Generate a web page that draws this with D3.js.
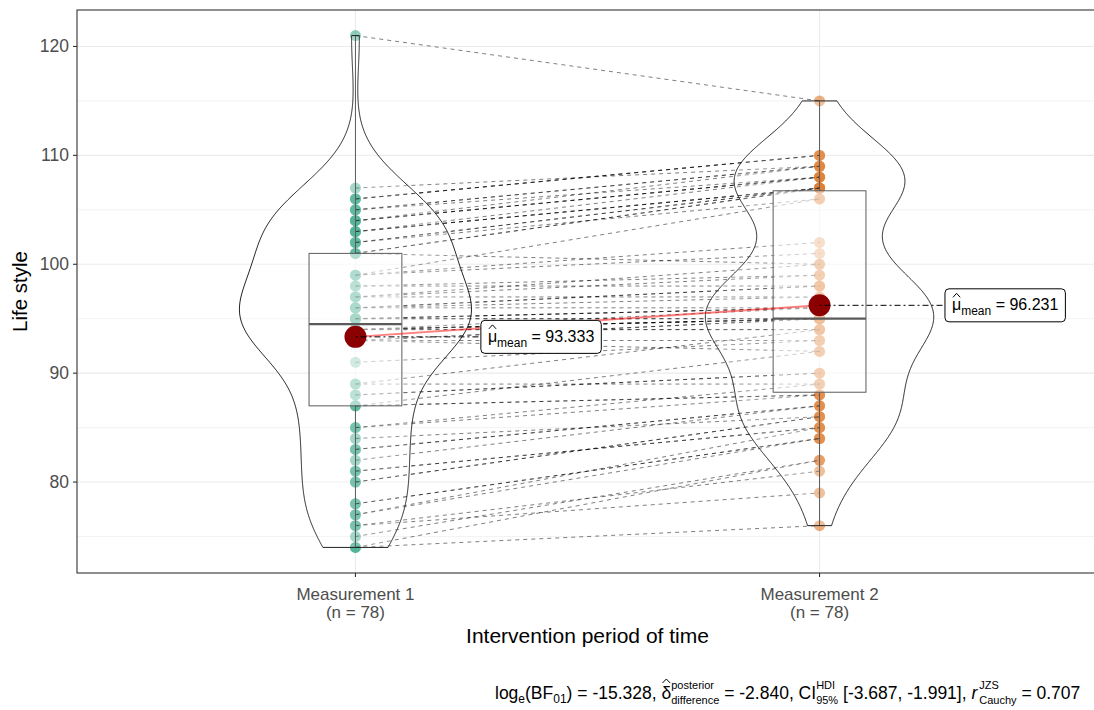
<!DOCTYPE html>
<html><head><meta charset="utf-8">
<script src="https://cdn.jsdelivr.net/npm/d3@7"></script>
<style>
body{margin:0;background:#fff}
svg text{font-family:"Liberation Sans",Arial,sans-serif;white-space:pre}
</style>
</head><body>
<svg id="chart" width="1094" height="710"></svg>
<script>
// ---------------- data ----------------
const categories = ["Measurement 1", "Measurement 2"];
const sampleSizes = [78, 78];
// values per subject (same index = same subject)
const measurement1 = [
  74,74,75,76,76,77,77,78,78,80,
  80,81,81,82,83,83,84,85,85,87,
  87,87,88,88,89,89,91,93,93,93,
  93,94,94,94,94,94,94,94,94,95,
  95,95,95,95,96,96,96,96,97,97,
  97,98,98,99,99,99,101,101,101,102,
  102,102,103,103,103,103,104,104,104,104,
  105,105,105,106,106,106,107,121];
const measurement2 = [
  76,82,82,81,79,85,84,84,84,86,
  86,85,85,87,87,87,86,89,88,88,
  88,92,90,90,89,94,93,93,92,95,
  95,94,94,95,95,95,95,96,95,95,
  95,96,96,96,96,98,98,97,97,100,
  99,99,98,106,102,101,100,107,107,107,
  106,107,107,107,107,108,108,108,108,109,
  109,109,108,110,110,110,109,115];
const yTicks = [80, 90, 100, 110, 120];
const yMinorTicks = [75, 85, 95, 105, 115];
const yTitle = "Life style";
const xTitle = "Intervention period of time";
const capLogBF = "-15.328";
const capDelta = "-2.840";
const capCILow = "-3.687";
const capCIHigh = "-1.991";
const capR = "0.707";
const groupColors = ["#1B9E77", "#D95F02"];

// ---------------- setup ----------------
const svg = d3.select("#chart");
const P = {left: 77, right: 1098, top: 10, bottom: 573};
const x = d3.scaleLinear().domain([0.4, 2.6]).range([P.left, P.right]);
const y = d3.scaleLinear().domain([71.65, 123.35]).range([P.bottom, P.top]);
const unit = x(2) - x(1);
const groups = [measurement1, measurement2];

svg.append("rect").attr("width", 1094).attr("height", 710).attr("fill", "#fff");

// grid
const grid = svg.append("g");
grid.selectAll(".minor").data(yMinorTicks).join("line")
  .attr("x1", P.left).attr("x2", P.right).attr("y1", d => y(d)).attr("y2", d => y(d))
  .attr("stroke", "#EBEBEB").attr("stroke-width", 0.6);
grid.selectAll(".major").data(yTicks).join("line")
  .attr("x1", P.left).attr("x2", P.right).attr("y1", d => y(d)).attr("y2", d => y(d))
  .attr("stroke", "#EBEBEB").attr("stroke-width", 1.1);
grid.selectAll(".vmajor").data([1, 2]).join("line")
  .attr("x1", d => x(d)).attr("x2", d => x(d)).attr("y1", P.top).attr("y2", P.bottom)
  .attr("stroke", "#EBEBEB").attr("stroke-width", 1.1);

// points
const ptsG = svg.append("g");
groups.forEach((vals, gi) => {
  ptsG.selectAll(null).data(vals).join("circle")
    .attr("cx", x(gi + 1)).attr("cy", d => y(d)).attr("r", 5.5)
    .attr("fill", groupColors[gi]).attr("fill-opacity", 0.5);
});

// paired paths
const pathG = svg.append("g");
pathG.selectAll("line").data(measurement1.map((v, i) => [v, measurement2[i]])).join("line")
  .attr("x1", x(1)).attr("x2", x(2)).attr("y1", d => y(d[0])).attr("y2", d => y(d[1]))
  .attr("stroke", "#000").attr("stroke-opacity", 0.5).attr("stroke-width", 1)
  .attr("stroke-dasharray", "4,4");

// boxplots
const boxG = svg.append("g");
groups.forEach((vals, gi) => {
  const s = vals.slice().sort(d3.ascending);
  const q1 = d3.quantile(s, 0.25), med = d3.quantile(s, 0.5), q3 = d3.quantile(s, 0.75);
  const iqr = q3 - q1;
  const lo = d3.min(s.filter(v => v >= q1 - 1.5 * iqr));
  const hi = d3.max(s.filter(v => v <= q3 + 1.5 * iqr));
  const cx = x(gi + 1), hw = 0.1 * unit;
  boxG.append("line").attr("x1", cx).attr("x2", cx).attr("y1", y(q3)).attr("y2", y(hi))
    .attr("stroke", "#333").attr("stroke-width", 1);
  boxG.append("line").attr("x1", cx).attr("x2", cx).attr("y1", y(q1)).attr("y2", y(lo))
    .attr("stroke", "#333").attr("stroke-width", 1);
  boxG.append("rect").attr("x", cx - hw).attr("width", 2 * hw).attr("y", y(q3)).attr("height", y(q1) - y(q3))
    .attr("fill", "#fff").attr("fill-opacity", 0.5).attr("stroke", "#333").attr("stroke-width", 1);
  boxG.append("line").attr("x1", cx - hw).attr("x2", cx + hw).attr("y1", y(med)).attr("y2", y(med))
    .attr("stroke", "#333").attr("stroke-width", 2.2);
});

// violins (gaussian KDE, bw.nrd0, trimmed, scale = area)
function kde(vals) {
  const s = vals.slice().sort(d3.ascending);
  const n = s.length, sd = d3.deviation(s);
  const iqr = d3.quantile(s, 0.75) - d3.quantile(s, 0.25);
  const bw = 0.9 * Math.min(sd, iqr / 1.34) * Math.pow(n, -0.2);
  const mn = s[0], mx = s[n - 1];
  return d3.range(512).map(i => {
    const t = mn + (mx - mn) * i / 511;
    const d = d3.mean(s, v => Math.exp(-0.5 * ((t - v) / bw) ** 2) / Math.sqrt(2 * Math.PI)) / bw;
    return [t, d];
  });
}
const dens = groups.map(kde);
const maxD = d3.max(dens, d => d3.max(d, e => e[1]));
const violG = svg.append("g");
dens.forEach((dd, gi) => {
  const cx = x(gi + 1);
  const area = d3.area().y(d => y(d[0]))
    .x0(d => cx - d[1] / maxD * 0.25 * unit)
    .x1(d => cx + d[1] / maxD * 0.25 * unit);
  violG.append("path").attr("d", area(dd) + "Z")
    .attr("fill", "#fff").attr("fill-opacity", 0.2).attr("stroke", "#222").attr("stroke-width", 1);
});

// centrality path and points
const means = groups.map(g => d3.mean(g));
svg.append("path").attr("d", d3.line().x((d, i) => x(i + 1)).y(d => y(d))(means))
  .attr("stroke", "red").attr("stroke-opacity", 0.5).attr("stroke-width", 2).attr("fill", "none");
svg.selectAll(".meanpt").data(means).join("circle")
  .attr("cx", (d, i) => x(i + 1)).attr("cy", d => y(d)).attr("r", 11).attr("fill", "#8B0000");

// rich text helper
function rich(g, x0, y0, parts) {
  let cx = x0;
  for (const p of parts) {
    if (p.stack) {
      const a = g.append("text").attr("x", cx).attr("y", y0 + p.supDy).attr("font-size", p.size).text(p.sup);
      const b = g.append("text").attr("x", cx).attr("y", y0 + p.subDy).attr("font-size", p.size).text(p.sub);
      cx += Math.max(a.node().getComputedTextLength(), b.node().getComputedTextLength()) + (p.after || 0);
    } else {
      const t = g.append("text").attr("x", cx).attr("y", y0 + (p.dy || 0)).attr("font-size", p.size)
        .attr("font-style", p.italic ? "italic" : null).text(p.text);
      const w = t.node().getComputedTextLength();
      if (p.hat) {
        g.append("path").attr("d", `M${cx + 1},${y0 - p.hat} L${cx + w / 2},${y0 - p.hat - 4} L${cx + w - 1},${y0 - p.hat}`)
          .attr("fill", "none").attr("stroke", "#000").attr("stroke-width", 1);
      }
      cx += w + (p.after || 0);
    }
  }
  return cx - x0;
}

// mean labels
means.forEach((m, i) => {
  const px = x(i + 1), py = y(m);
  const lc = x(i + 1.4);
  const g = svg.append("g");
  const tg = g.append("g");
  const w = rich(tg, 0, 0, [
    {text: "\u03BC", size: 16, hat: 13},
    {text: "mean", size: 12, dy: 5},
    {text: " = " + d3.format(".3f")(m), size: 16}
  ]);
  const bw = w + 14, bh = 33;
  const bx = lc - bw / 2, by = py - bh / 2;
  g.insert("line", ":first-child").attr("x1", px).attr("y1", py).attr("x2", bx).attr("y2", py)
    .attr("stroke", "#000").attr("stroke-width", 1).attr("stroke-dasharray", "2,3,6,3");
  g.insert("rect", "g").attr("x", bx).attr("y", by).attr("width", bw).attr("height", bh)
    .attr("rx", 4).attr("fill", "#fff").attr("stroke", "#000").attr("stroke-width", 1);
  tg.attr("transform", `translate(${bx + 7},${py + 5})`);
});

// panel border
svg.append("rect").attr("x", P.left).attr("y", P.top).attr("width", P.right - P.left).attr("height", P.bottom - P.top)
  .attr("fill", "none").attr("stroke", "#333").attr("stroke-width", 1.1);

// y axis
const yAxis = svg.append("g");
yTicks.forEach(t => {
  yAxis.append("line").attr("x1", P.left - 4).attr("x2", P.left).attr("y1", y(t)).attr("y2", y(t))
    .attr("stroke", "#333").attr("stroke-width", 1.1);
  yAxis.append("text").attr("x", P.left - 8).attr("y", y(t) + 6).attr("text-anchor", "end")
    .attr("font-size", 17.5).attr("fill", "#4D4D4D").text(t);
});
svg.append("text").attr("transform", `translate(27,${(P.top + P.bottom) / 2}) rotate(-90)`)
  .attr("text-anchor", "middle").attr("font-size", 20.5).attr("fill", "#000").text(yTitle);

// x axis
const xAxis = svg.append("g");
categories.forEach((c, i) => {
  const cx = x(i + 1);
  xAxis.append("line").attr("x1", cx).attr("x2", cx).attr("y1", P.bottom).attr("y2", P.bottom + 4)
    .attr("stroke", "#333").attr("stroke-width", 1.1);
  xAxis.append("text").attr("x", cx).attr("y", 599.5).attr("text-anchor", "middle")
    .attr("font-size", 17).attr("fill", "#4D4D4D").text(c);
  xAxis.append("text").attr("x", cx).attr("y", 617.5).attr("text-anchor", "middle")
    .attr("font-size", 17).attr("fill", "#4D4D4D").text(`(n = ${sampleSizes[i]})`);
});
svg.append("text").attr("x", (P.left + P.right) / 2).attr("y", 643).attr("text-anchor", "middle")
  .attr("font-size", 21).attr("fill", "#000").text(xTitle);

// caption
const capG = svg.append("g");
rich(capG, 495, 699, [
  {text: "log", size: 17.5},
  {text: "e", size: 12, dy: 4},
  {text: "(BF", size: 17.5},
  {text: "01", size: 12, dy: 4},
  {text: ") = " + capLogBF + ", ", size: 17.5},
  {text: "\u03B4", size: 17.5, hat: 16},
  {stack: true, sup: "posterior", sub: "difference", size: 11, supDy: -10, subDy: 5},
  {text: " = " + capDelta + ", CI", size: 17.5},
  {stack: true, sup: "HDI", sub: "95%", size: 11, supDy: -10, subDy: 5},
  {text: " [" + capCILow + ", " + capCIHigh + "], ", size: 17.5},
  {text: "r", size: 17.5, italic: true, after: 2},
  {stack: true, sup: "JZS", sub: "Cauchy", size: 11, supDy: -10, subDy: 5},
  {text: " = " + capR, size: 17.5}
]);
</script>
</body></html>
